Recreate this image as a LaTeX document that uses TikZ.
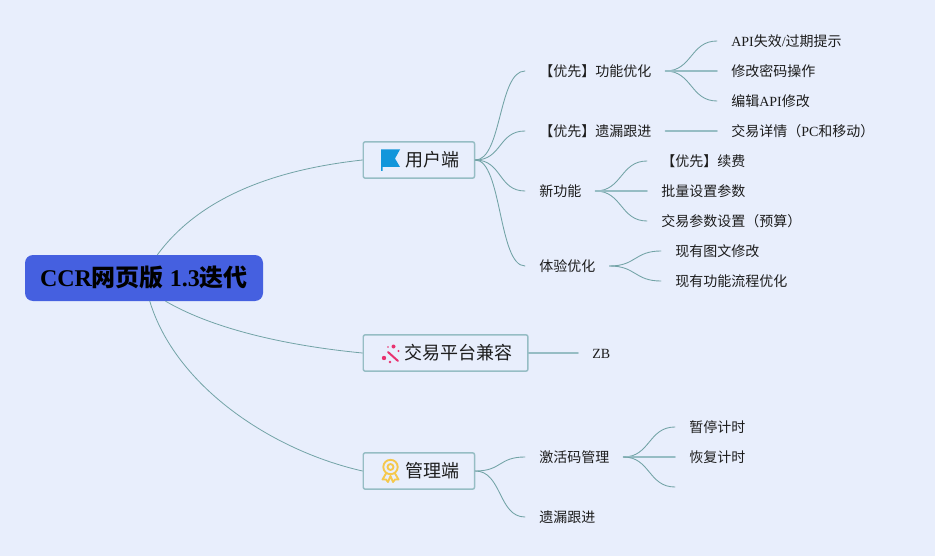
\documentclass[tikz,border=0pt]{standalone}
\usepackage{fontspec}
\setmainfont{Liberation Serif}
\newfontfamily\cjk{Noto Sans CJK SC}
\newcommand{\zh}[1]{{\cjk #1}}
\definecolor{paper}{HTML}{E8EEFC}
\definecolor{rootblue}{HTML}{4560E0}
\definecolor{wire}{HTML}{72A3A6}
\definecolor{frame}{HTML}{96BDC4}
\definecolor{ink}{HTML}{1C1C1C}
\definecolor{flagblue}{HTML}{1296DB}
\definecolor{wandpink}{HTML}{E8326F}
\definecolor{medalgold}{HTML}{F5C84C}
\tikzset{
	rootbox/.style={fill=rootblue,rounded corners=6pt,inner sep=0pt,minimum width=178.5pt,minimum height=34.5pt,font=\fontsize{18}{18}\bfseries,text=black},
	branchbox/.style={draw=frame,line width=1.1pt,fill=paper,rounded corners=1.5pt,anchor=west,inner sep=0pt,minimum height=27.25pt,font=\fontsize{13.5}{14}\selectfont,text=ink},
	leaf/.style={anchor=west,inner xsep=10.5pt,inner ysep=0pt,text height=8.5pt,text depth=.75pt,font=\fontsize{10.5}{12}\selectfont,text=ink},
	link/.style={draw=wire,line width=.65pt,out=0,in=180,distance=20pt},
	flat/.style={draw=frame,line width=1.2pt},
	trunk/.style={draw=wire,line width=.6pt}
}
\begin{document}
\begin{tikzpicture}[x=.75pt,y=-.75pt,line join=round,line cap=round]
	\fill[paper] (0,0) rectangle (935,556);
	\node[rootbox] (root) at (144,278) {CCR\zh{网页版} 1.3\zh{迭代}};
	\node[branchbox,minimum width=83.5pt] (user) at (362.5,160) {\hspace*{20pt}\raisebox{-.75pt}{\zh{用户端}}};
	\node[branchbox,minimum width=123.5pt] (compat) at (362.5,353) {\hspace*{20pt}\raisebox{-.75pt}{\zh{交易平台兼容}}};
	\node[branchbox,minimum width=83.5pt] (admin) at (362.5,471) {\hspace*{20pt}\raisebox{-.75pt}{\zh{管理端}}};
	\foreach \n/\x/\y/\t in {func/525/71/【优先】功能优化,miss/525/131/【优先】遗漏跟进,newf/525/191/新功能,feel/525/266/体验优化,code/525/457/激活码管理,gap/525/517/遗漏跟进,
		edit/717/71/修改密码操作,renew/647/161/【优先】续费,batch/647/191/批量设置参数,budget/647/221/交易参数设置（预算）,img/661/251/现有图文修改,flow/661/281/现有功能流程优化,pause/675/427/暂停计时,resume/675/457/恢复计时}
		\node[leaf] (\n) at (\x,\y) {\zh{\t}};
	\node[leaf] (fail) at (717,41) {API\zh{失效}/\zh{过期提示}};
	\node[leaf] (api) at (717,101) {\zh{编辑}API\zh{修改}};
	\node[leaf] (info) at (717,131) {\zh{交易详情（}PC\zh{和移动）}};
	\node[leaf] (zb) at (578,353) {ZB};
	\coordinate (blank) at (675,487);
	% root to branches
	\draw[trunk] (root.60) .. controls (205,190) and (290,168) .. (user.west);
	\draw[trunk] (root.-47) .. controls (215,330) and (290,346) .. (compat.west);
	\draw[trunk] (root.-76) .. controls (175,385) and (270,450) .. (admin.west);
	\foreach \a/\b in {user/func,user/miss,user/newf,user/feel,func/fail,func/api,newf/renew,newf/budget,feel/img,feel/flow,admin/code,admin/gap,code/pause}
		\draw[link] (\a.east) to (\b.west);
	\foreach \a/\b in {func/edit,miss/info,newf/batch,compat/zb,code/resume}
		\draw[flat] (\a.east) -- (\b.west);
	\draw[link] (code.east) to (blank);
	% icons
	\fill[flagblue] (381,149.5)--(400,149.5)--(395,158.5)--(400,167)--(382.5,167)--(382.5,171)--(381,171)--cycle;
	\begin{scope}[draw=wandpink,fill=wandpink]
		\draw[line width=1.5pt] (388,352)--(398,361);
		\fill (384,358) circle (2.2) (393.5,346.5) circle (2) (390,362) circle (1.3) (398.5,351) circle (1.2) (388,347) circle (.9);
	\end{scope}
	\begin{scope}[shift={(390.5,467)},draw=medalgold,line width=1.4pt]
		\draw (0,0) circle (7.2);
		\draw (0,0) circle (3);
		\draw (-4.5,6.5)--(-8,12.5)--(-4.5,12.5)--(-2.5,15)--(0,9)--(2.5,15)--(4.5,12.5)--(8,12.5)--(4.5,6.5);
	\end{scope}
\end{tikzpicture}
\end{document}
